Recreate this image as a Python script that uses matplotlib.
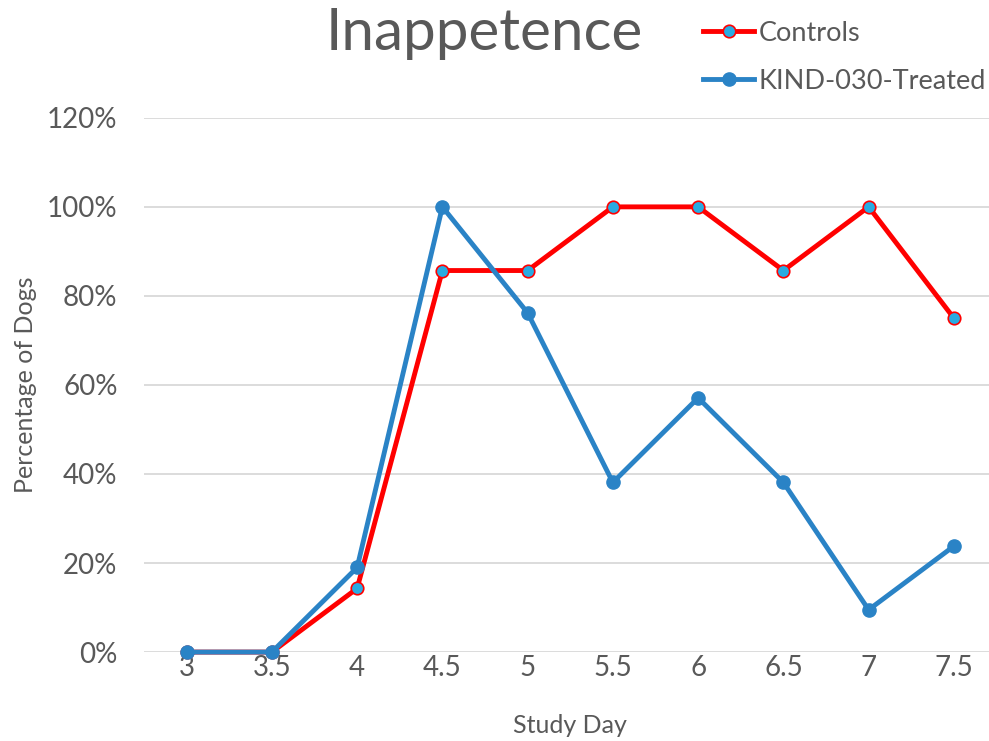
import matplotlib
matplotlib.use("Agg")
import matplotlib.pyplot as plt
from matplotlib.ticker import PercentFormatter

plt.rcParams['font.family'] = ['Lato', 'DejaVu Sans']

days = ['3', '3.5', '4', '4.5', '5', '5.5', '6', '6.5', '7', '7.5']
controls = [0, 0, 14.3, 85.7, 85.7, 100, 100, 85.7, 100, 75]
treated = [0, 0, 19.0, 100, 76.2, 38.1, 57.1, 38.1, 9.5, 23.8]

text_col = '#595959'
x = list(range(len(days)))

fig = plt.figure(figsize=(9.89, 7.41), dpi=100)
ax = fig.add_axes([0.1456, 0.12, 0.862, 0.721])

ax.plot(x, controls, color='#FF0000', lw=3.5, marker='o', ms=9,
        mfc='#29ABE2', mec='#FF0000', mew=1.2, clip_on=False, zorder=3,
        label='Controls')
ax.plot(x, treated, color='#2A83C6', lw=3.5, marker='o', ms=9.5,
        mfc='#2A83C6', mec='#2A83C6', clip_on=False, zorder=4,
        label='KIND-030-Treated')

ax.set_xlim(-0.5, 9.5)
ax.set_ylim(0, 120)
ax.set_yticks(range(0, 121, 20))
ax.yaxis.set_major_formatter(PercentFormatter(decimals=0))
ax.set_xticks(x)
ax.set_xticklabels(days)
ax.grid(axis='y', color='#D9D9D9', lw=1.3)
ax.set_axisbelow(True)
for s in ax.spines.values():
    s.set_visible(False)
ax.tick_params(length=0, labelsize=20, colors=text_col)
ax.tick_params(axis='x', pad=2)
ax.tick_params(axis='y', pad=19)

ax.set_xlabel('Study Day', fontsize=18, color=text_col, labelpad=24)
ax.set_ylabel('Percentage of Dogs', fontsize=18, color=text_col, labelpad=7)

fig.text(0.49, 0.955, 'Inappetence', fontsize=42, color=text_col,
         ha='center', va='center')

leg = fig.legend(loc='upper left', bbox_to_anchor=(0.686, 1.005),
                 frameon=False, fontsize=19.5,
                 handlelength=1.9, handletextpad=0.15, labelspacing=0.85,
                 labelcolor=text_col)

fig.savefig('out.png', dpi=100)
